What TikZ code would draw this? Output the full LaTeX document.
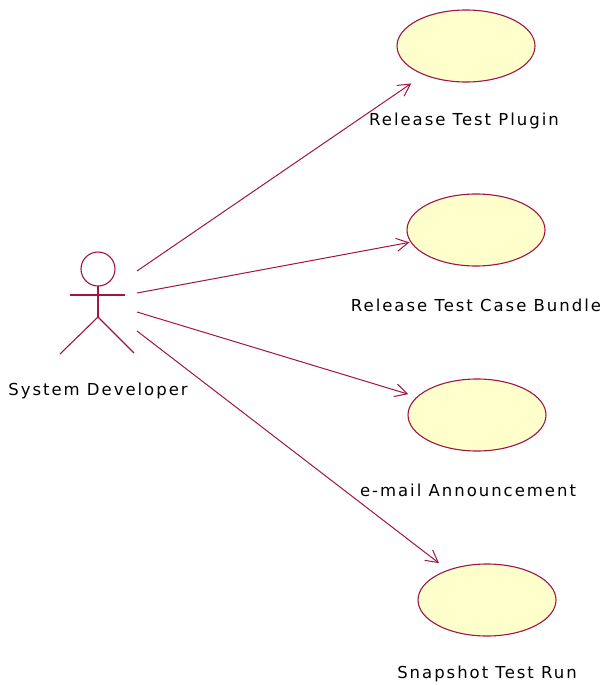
\documentclass[tikz,border=0pt]{standalone}
\usepackage{fontspec}
\newfontfamily\lblfont[LetterSpace=12]{DejaVu Sans}
\usetikzlibrary{shapes.geometric,arrows.meta}
\definecolor{umlline}{RGB}{160,20,70}
\definecolor{umlfill}{RGB}{255,255,204}
\tikzset{
  usecase/.style={ellipse, draw=umlline, fill=umlfill, line width=1.1pt, minimum width=138pt, minimum height=72pt, inner sep=0pt},
  lbl/.style={font=\lblfont\fontsize{16.5}{19}\selectfont, text=black, inner sep=0pt},
  actorline/.style={draw=umlline, line width=1.1pt},
  assoc/.style={draw=umlline, line width=1pt, -{Straight Barb[length=12pt,width=13pt,line width=1pt]}}
}
\begin{document}
\begin{tikzpicture}[x=1pt,y=-1pt]
\useasboundingbox (0,0) rectangle (603,685);
% actor
\coordinate (head) at (98,269);
\draw[actorline] (head) circle (17);
\draw[actorline] (70,295) -- (125,295);
\draw[actorline] (98,286) -- (98,317);
\draw[actorline] (98,317) -- (60,354);
\draw[actorline] (98,317) -- (134,353);
\node[lbl] (actorlbl) at (98,391) {System Developer};
% start coordinates
\coordinate (s1) at (137,271);
\coordinate (s2) at (137,293);
\coordinate (s3) at (137,312);
\coordinate (s4) at (137,331);
% use cases
\node[usecase] (u1) at (466,46) {};
\node[usecase] (u2) at (476,230) {};
\node[usecase] (u3) at (477,415) {};
\node[usecase] (u4) at (487,600) {};
\node[lbl] (l1) at (464,121) {Release Test Plugin};
\node[lbl] (l2) at (476,305) {Release Test Case Bundle};
\node[lbl] (l3) at (468,490) {e-mail Announcement};
\node[lbl] (l4) at (487,674) {Snapshot Test Run};
% associations
\draw[assoc, shorten >=15pt] (s1) -- (u1);
\draw[assoc, shorten >=1pt] (s2) -- (u2);
\draw[assoc, shorten >=9pt] (s3) -- (u3);
\draw[assoc, shorten >=11pt] (s4) -- (u4);
\end{tikzpicture}
\end{document}
